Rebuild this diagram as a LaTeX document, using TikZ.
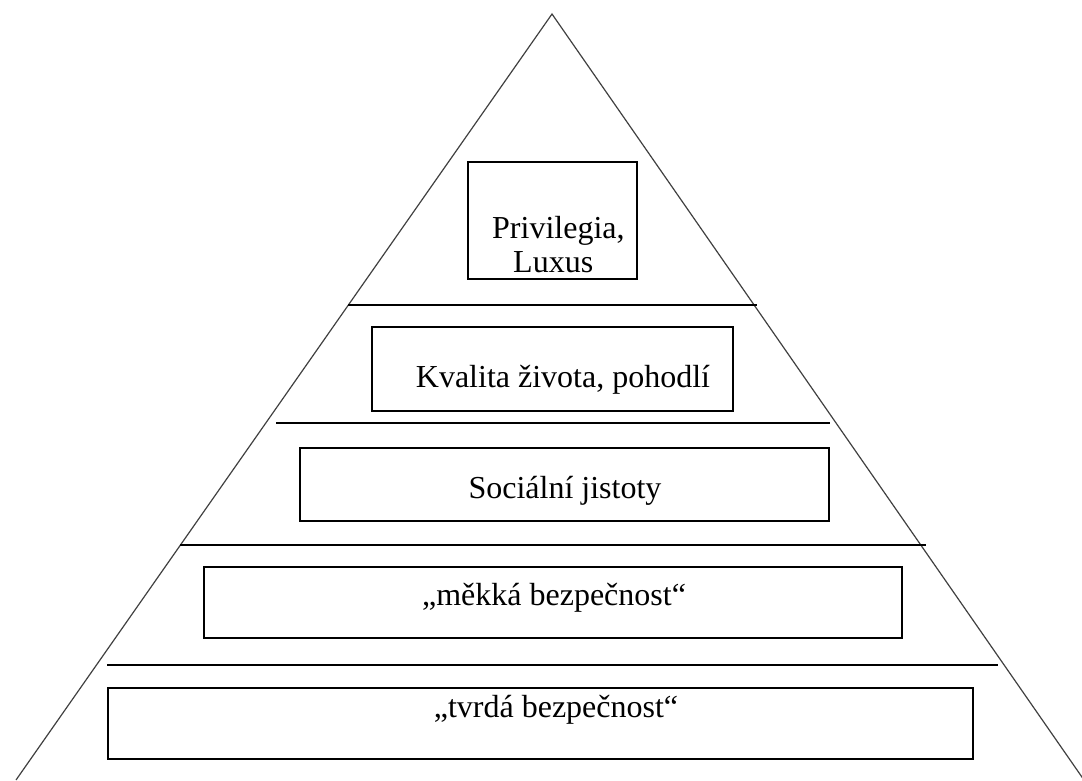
\documentclass[tikz,border=0pt]{standalone}
\usepackage{fontspec}
\setmainfont{Liberation Serif}
\usepackage{tikz}
\usetikzlibrary{positioning}

\begin{document}
\begin{tikzpicture}[x=1pt,y=-1pt,
	level/.style={shape=rectangle,draw,line width=1.6pt,inner sep=0pt},
	caption/.style={font=\fontsize{32}{34}\selectfont,inner sep=0pt},
	divider/.style={line width=1.6pt}]
	\useasboundingbox (0,0) rectangle (1082,780);
	% pyramid outline
	\coordinate (apex) at (552,14);
	\coordinate (leftfoot) at (16,780);
	\coordinate (rightfoot) at (1084,780);
	\draw[line width=1.2pt,black!75] (leftfoot) -- (apex) -- (rightfoot);

	% boxes
	\node (privbox) [level,minimum width=169pt,minimum height=117pt] at (552.5,220.5) {};
	\node (kvalbox) [level,minimum width=361pt,minimum height=84pt] at (552.5,369) {};
	\node (socbox) [level,minimum width=529pt,minimum height=73pt] at (564.5,484.5) {};
	\node (mekbox) [level,minimum width=698pt,minimum height=71pt] at (553,602.5) {};
	\node (tvrbox) [level,minimum width=865pt,minimum height=71pt] at (540.5,723.5) {};

	% labels
	\node (priv) [caption,anchor=base west] at (492,238) {Privilegia,};
	\node (lux) [caption,anchor=base west] at (513,272) {Luxus};
	\node (kval) [caption,anchor=base] at (563,387) {Kvalita života, pohodlí};
	\node (soc) [caption,anchor=base] at (565,498) {Sociální jistoty};
	\node (mek) [caption,anchor=base] at (554,605) {„měkká bezpečnost“};
	\node (tvr) [caption,anchor=base] at (556,717) {„tvrdá bezpečnost“};

	% dividers between the levels
	\foreach \y/\l/\r in {305/348/757, 423/276/830, 545/180/926, 665/107/998}
		\draw[divider] (\l,\y) -- (\r,\y);
\end{tikzpicture}
\end{document}
